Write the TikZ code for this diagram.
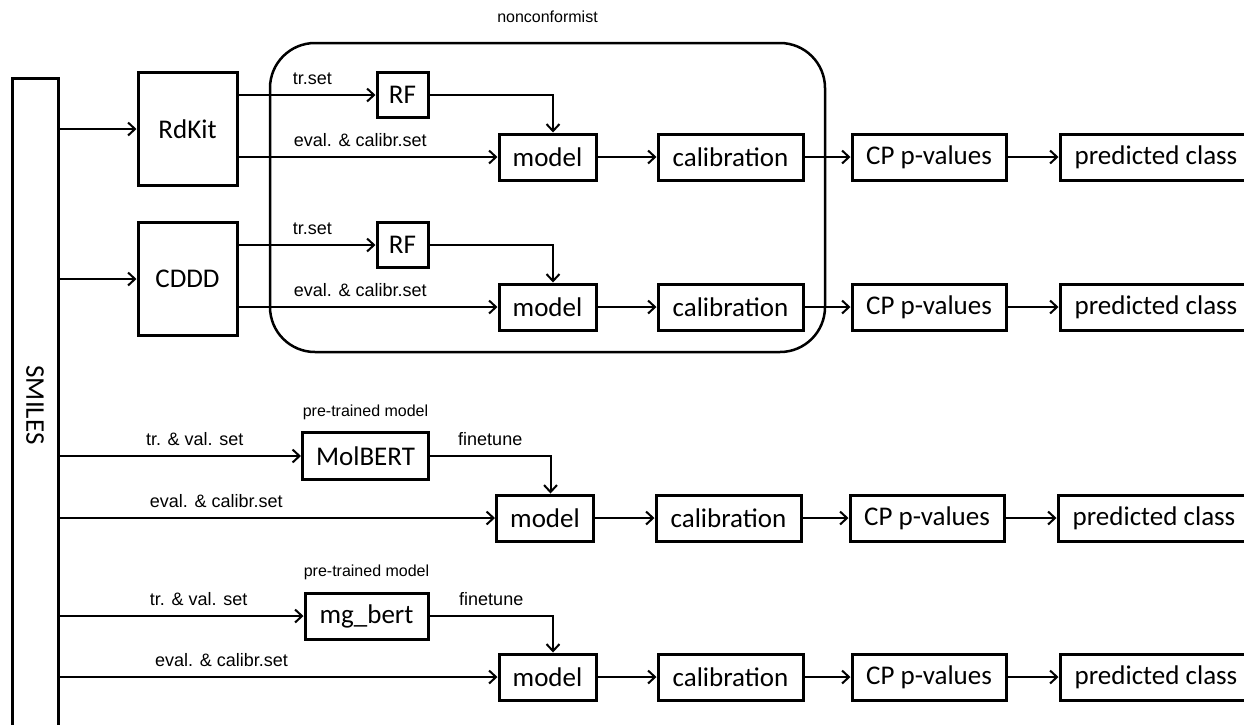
\documentclass[tikz,border=0pt]{standalone}
\usepackage{fontspec}
\setmainfont{Carlito}
\newfontfamily\lblfont{Liberation Sans}
\usetikzlibrary{arrows.meta,positioning}
\tikzset{
  box/.style={draw=black,line width=3pt,font=\fontsize{27}{30}\selectfont,inner sep=0pt,minimum height=46pt},
  lbl/.style={font=\lblfont\fontsize{18}{20}\selectfont,inner sep=0pt,anchor=base},
  smalllbl/.style={lbl,font=\lblfont\fontsize{16}{18}\selectfont},
  flow/.style={line width=2pt,-{Straight Barb[length=7pt,width=13pt]}},
}
\begin{document}
\begin{tikzpicture}[x=1pt,y=-1pt]
\useasboundingbox (0,0) rectangle (1244,724);
% \draw[help lines,step=50] (0,0) grid (1244,724);
\node (smiles) [draw=black,line width=3pt,minimum width=46pt,minimum height=662pt] at (35,409) {};
\node (smilestxt) [rotate=-90,font=\fontsize{27}{30}\selectfont] at (35,405) {SMILES};
%
\node (nc) [draw=black,line width=2.5pt,rounded corners=45pt,minimum width=555pt,minimum height=309pt] at (547.5,197.5) {};
\node (nclbl) [smalllbl] at ([yshift=19pt]nc.north) {nonconformist};
%
\node (rdkit) [box,minimum width=99pt,minimum height=113pt] at (187.5,129) {RdKit};
\node (cddd) [box,minimum width=99pt,minimum height=113pt] at (187.5,279) {CDDD};
\node (rf1) [box,minimum width=51pt,minimum height=45pt] at (402.5,95) {RF};
\node (rf2) [box,minimum width=51pt,minimum height=45pt] at (402.5,245) {RF};
\node (molbert) [box,minimum width=126pt,minimum height=47pt] at (365.5,456) {MolBERT};
\node (mgbert) [box,minimum width=123pt,minimum height=46pt] at (366.5,616) {mg\_bert};
\node (ptA) [smalllbl] at ([yshift=15pt]molbert.north) {pre-trained model};
\node (ptB) [smalllbl] at ([yshift=15pt]mgbert.north) {pre-trained model};
%
\node (model1) [box,minimum width=97pt] at (547.5,157) {model};
\node (calib1) [box,minimum width=145pt] at (730.5,157) {calibration};
\node (cp1) [box,minimum width=154pt] at (929,157) {CP p-values};
\node (pred1) [box,minimum width=192pt] at (1156,157) {predicted class};
\node (model2) [box,minimum width=97pt] at (547.5,307) {model};
\node (calib2) [box,minimum width=145pt] at (730.5,307) {calibration};
\node (cp2) [box,minimum width=154pt] at (929,307) {CP p-values};
\node (pred2) [box,minimum width=192pt] at (1156,307) {predicted class};
\node (model3) [box,minimum width=97pt] at (545,518) {model};
\node (calib3) [box,minimum width=145pt] at (728.5,518) {calibration};
\node (cp3) [box,minimum width=154pt] at (927,518) {CP p-values};
\node (pred3) [box,minimum width=192pt] at (1154,518) {predicted class};
\node (model4) [box,minimum width=97pt] at (547.5,677) {model};
\node (calib4) [box,minimum width=145pt] at (730.5,677) {calibration};
\node (cp4) [box,minimum width=154pt] at (929,677) {CP p-values};
\node (pred4) [box,minimum width=192pt] at (1156,677) {predicted class};
%
\draw[flow] (smiles.east |- rdkit.west) -- (rdkit.west);
\draw[flow] (smiles.east |- cddd.west) -- (cddd.west);
\draw[flow] (smiles.east |- molbert.west) -- node[lbl,pos=0.56,yshift=11pt] (tvA) {tr. \& val. set} (molbert.west);
\draw[flow] (smiles.east |- model3.west) -- node[lbl,pos=0.36,yshift=11pt] (evC) {eval. \& calibr.set} (model3.west);
\draw[flow] (smiles.east |- mgbert.west) -- node[lbl,pos=0.57,yshift=11pt] (tvB) {tr. \& val. set} (mgbert.west);
\draw[flow] (smiles.east |- model4.west) -- node[lbl,pos=0.37,yshift=11pt] (evD) {eval. \& calibr.set} (model4.west);
%
\draw[flow] (rdkit.east |- rf1.west) -- node[lbl,pos=0.54,yshift=11pt] (trA) {tr.set} (rf1.west);
\draw[flow] (rdkit.east |- model1.west) -- node[lbl,pos=0.47,yshift=11pt] (evA) {eval. \& calibr.set} (model1.west);
\draw[flow] (cddd.east |- rf2.west) -- node[lbl,pos=0.54,yshift=11pt] (trB) {tr.set} (rf2.west);
\draw[flow] (cddd.east |- model2.west) -- node[lbl,pos=0.47,yshift=11pt] (evB) {eval. \& calibr.set} (model2.west);
\draw[flow] (rf1.east) -| ([xshift=5.5pt]model1.north);
\draw[flow] (rf2.east) -| ([xshift=5.5pt]model2.north);
\draw[flow] (molbert.east) -| node[lbl,pos=0.25,yshift=11pt] (ftA) {finetune} ([xshift=5.5pt]model3.north);
\draw[flow] (mgbert.east) -| node[lbl,pos=0.25,yshift=11pt] (ftB) {finetune} ([xshift=5.5pt]model4.north);
%
\draw[flow] (model1) -- (calib1);
\draw[flow] (calib1) -- (cp1);
\draw[flow] (cp1) -- (pred1);
\draw[flow] (model2) -- (calib2);
\draw[flow] (calib2) -- (cp2);
\draw[flow] (cp2) -- (pred2);
\draw[flow] (model3) -- (calib3);
\draw[flow] (calib3) -- (cp3);
\draw[flow] (cp3) -- (pred3);
\draw[flow] (model4) -- (calib4);
\draw[flow] (calib4) -- (cp4);
\draw[flow] (cp4) -- (pred4);
\end{tikzpicture}
\end{document}
